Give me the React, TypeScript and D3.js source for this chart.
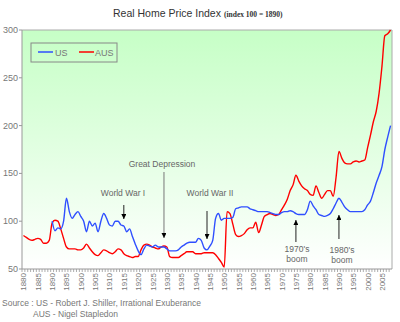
import React from "react";
import * as d3 from "d3";

const ausStart = 1880;
const ausValues = [
  85, 83, 81, 80, 81, 82, 81, 77, 77, 80, // 1880-1889
  98, 101, 100, 92, 82, 73, 71, 71, 71, 70, // 1890-1899
  70, 72, 76, 72, 68, 65, 64, 67, 70, 69, // 1900-1909
  67, 66, 68, 71, 70, 66, 64, 63, 62, 63, // 1910-1919
  63, 70, 75, 76, 75, 73, 72, 71, 73, 74, // 1920-1929
  73, 63, 62, 62, 62, 64, 66, 68, 68, 68, // 1930-1939
  66, 66, 66, 67, 67, 67, 67, 65, 61, 57, // 1940-1949
  52, 110, 108, 97, 86, 84, 85, 87, 91, 93, // 1950-1959
  93, 99, 88, 96, 105, 107, 108, 107, 106, 107, // 1960-1969
  112, 117, 123, 132, 138, 148, 142, 137, 134, 132, // 1970-1979
  128, 127, 137, 130, 124, 128, 132, 132, 126, 146, // 1980-1989
  173, 166, 161, 160, 160, 162, 163, 162, 163, 164, // 1990-1999
  177, 190, 204, 215, 234, 262, 294, 296, 300, // 2000-2008
];

const usStart = 1890;
const usValues = [
  100, 90, 93, 92, 100, 124, 110, 103, 107, 110, // 1890-1899
  105, 100, 89, 100, 95, 98, 89, 100, 108, 103, // 1900-1909
  96, 95, 100, 100, 96, 95, 89, 92, 84, 76, // 1910-1919
  69, 65, 71, 75, 74, 73, 75, 73, 73, 73, // 1920-1929
  71, 69, 69, 69, 70, 73, 75, 77, 78, 78, // 1930-1939
  78, 82, 80, 72, 70, 74, 80, 103, 108, 101, // 1940-1949
  103, 103, 103, 104, 113, 114, 115, 115, 115, 113, // 1950-1959
  112, 111, 110, 110, 110, 110, 109, 108, 107, 107, // 1960-1969
  109, 110, 110, 111, 110, 108, 107, 107, 107, 112, // 1970-1979
  121, 116, 112, 107, 106, 105, 106, 108, 113, 119, // 1980-1989
  124, 120, 115, 112, 110, 110, 110, 110, 110, 112, // 1990-1999
  117, 121, 130, 140, 148, 157, 175, 188, 200, // 2000-2008
];

const yTicks = [50, 100, 150, 200, 250, 300];
const xLabelYears = d3.range(1880, 2006, 5);
const allYears = d3.range(1880, 2009);

const annotations = [
  { lines: ["World War I"], year: 1915, textY: 196, arrowFrom: 205, arrowTo: 219, color: "#222", tx: 123 },
  { lines: ["Great Depression"], year: 1929, textY: 167, arrowFrom: 172, arrowTo: 238, color: "#777", tx: 162 },
  { lines: ["World War II"], year: 1944, textY: 196, arrowFrom: 211, arrowTo: 239, color: "#222", tx: 210 },
  { lines: ["1970's", "boom"], year: 1975, textY: 252, arrowFrom: 242, arrowTo: 220, color: "#222", tx: 297 },
  { lines: ["1980's", "boom"], year: 1990, textY: 253, arrowFrom: 239, arrowTo: 215, color: "#222", tx: 342 },
];

export default function App() {
  const left = 22;
  const right = 392;
  const top = 30;
  const bottom = 269;

  const x = d3
    .scaleBand<number>()
    .domain(allYears)
    .range([left, right]);
  const cx = (yr: number) => (x(yr) as number) + x.bandwidth() / 2;
  const y = d3.scaleLinear().domain([50, 300]).range([bottom, top]);

  const ausData = ausValues.map((v, i) => ({ year: ausStart + i, v }));
  const usData = usValues.map((v, i) => ({ year: usStart + i, v }));

  const line = d3
    .line<{ year: number; v: number }>()
    .x((d) => cx(d.year))
    .y((d) => y(d.v))
    .curve(d3.curveMonotoneX);

  const font = "Liberation Sans, Arial, sans-serif";
  const gray = "#777";

  return (
    <svg
      width={400}
      height={322}
      style={{ position: "absolute", left: 0, top: 0, background: "#fff" }}
      fontFamily={font}
    >
      <defs>
        <linearGradient id="bg" x1="0" y1="0" x2="0" y2="1">
          <stop offset="0%" stopColor="#c6ffc6" />
          <stop offset="50%" stopColor="#e2ffe2" />
          <stop offset="100%" stopColor="#ffffff" />
        </linearGradient>
        <marker id="ah" viewBox="0 0 10 10" refX="10" refY="5" markerWidth="5" markerHeight="5" orient="auto">
          <path d="M0,0 L10,5 L0,10 z" fill="#000" />
        </marker>
      </defs>

      {/* Title */}
      <text x={113} y={17} fontSize={10.5} fill="#333">
        Real Home Price Index
        <tspan fontFamily="Liberation Serif, Times New Roman, serif" fontWeight="bold" fontSize={7.5} dx={3}>
          (index 100 = 1890)
        </tspan>
      </text>

      {/* Plot background */}
      <rect x={left} y={top} width={right - left} height={bottom - top} fill="url(#bg)" />
      <line x1={left} y1={top} x2={right} y2={top} stroke="#aaa" />
      <line x1={right} y1={top} x2={right} y2={bottom} stroke="#aaa" />

      {/* Y axis */}
      <line x1={left} y1={top} x2={left} y2={bottom} stroke="#999" />
      {yTicks.map((t) => (
        <g key={t}>
          <line x1={left - 3} x2={left} y1={y(t)} y2={y(t)} stroke="#999" />
          <text x={left - 4} y={y(t) + 3} fontSize={9} textAnchor="end" fill={gray}>
            {t}
          </text>
        </g>
      ))}

      {/* X axis */}
      <line x1={left} y1={bottom} x2={right} y2={bottom} stroke="#999" />
      {allYears.map((yr) => (
        <line
          key={yr}
          x1={x(yr) as number}
          x2={x(yr) as number}
          y1={bottom}
          y2={bottom + 3}
          stroke="#999"
          strokeWidth={0.8}
        />
      ))}
      {xLabelYears.map((yr) => (
        <text
          key={yr}
          transform={`translate(${cx(yr) + 3},${bottom + 4}) rotate(-90)`}
          fontSize={8}
          textAnchor="end"
          fill={gray}
        >
          {yr}
        </text>
      ))}

      {/* Lines */}
      <path d={line(ausData) || ""} fill="none" stroke="#ff0000" strokeWidth={1.4} />
      <path d={line(usData) || ""} fill="none" stroke="#2f4fff" strokeWidth={1.4} />

      {/* Annotations */}
      {annotations.map((a, i) => (
        <g key={i}>
          {a.lines.map((l, j) => (
            <text key={j} x={a.tx} y={a.textY + j * 10} fontSize={8.5} textAnchor="middle" fill="#666">
              {l}
            </text>
          ))}
          <line
            x1={cx(a.year)}
            x2={cx(a.year)}
            y1={a.arrowFrom}
            y2={a.arrowTo}
            stroke={a.color}
            strokeWidth={1}
            markerEnd="url(#ah)"
          />
        </g>
      ))}

      {/* Legend */}
      <rect x={31} y={43} width={86} height={19} fill="none" stroke="#888" />
      <line x1={38} x2={53} y1={52} y2={52} stroke="#2f4fff" strokeWidth={1.5} />
      <text x={55} y={55.5} fontSize={9} fill={gray}>US</text>
      <line x1={79} x2={94} y1={52} y2={52} stroke="#ff0000" strokeWidth={1.5} />
      <text x={95} y={55.5} fontSize={9} fill={gray}>AUS</text>

      {/* Source */}
      <text x={2} y={306} fontSize={8.5} fill={gray}>
        Source : US - Robert J. Shiller, Irrational Exuberance
      </text>
      <text x={33} y={317} fontSize={8.5} fill={gray}>
        AUS - Nigel Stapledon
      </text>
    </svg>
  );
}
